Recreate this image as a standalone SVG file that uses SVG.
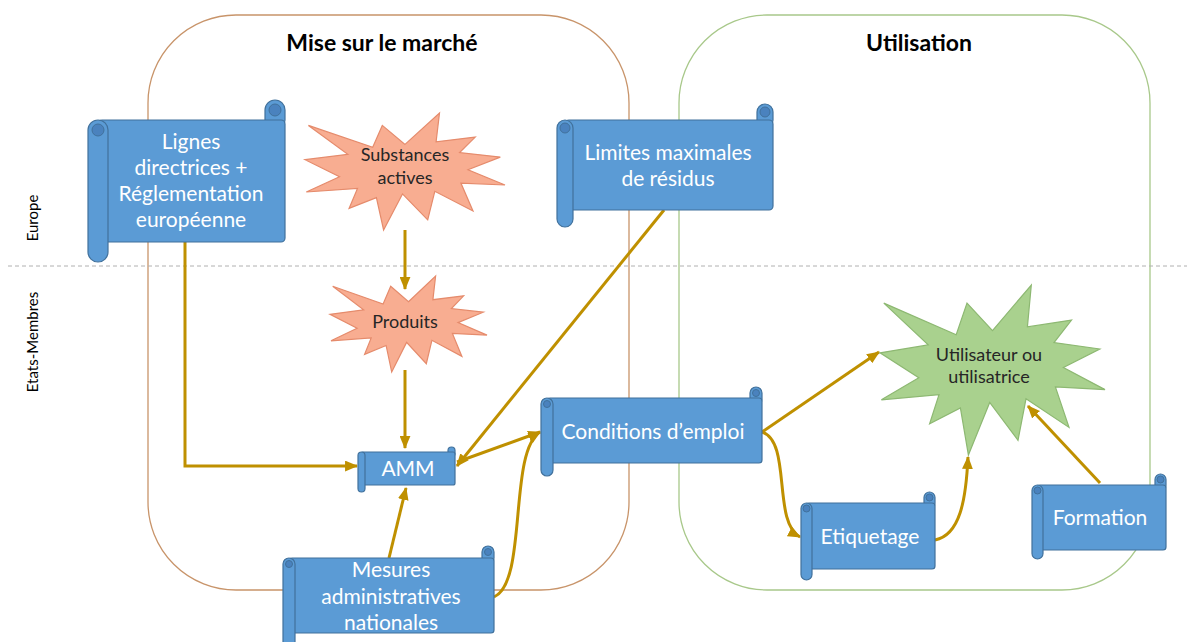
<svg xmlns="http://www.w3.org/2000/svg" width="1187" height="642" viewBox="0 0 1187 642">
<style>
.bg{fill:#fff}
.cont-l{fill:none;stroke:#C8946A;stroke-width:1.3}
.cont-r{fill:none;stroke:#A8C88A;stroke-width:1.3}
.title{font-family:Lato,"Liberation Sans",sans-serif;font-weight:bold;font-size:23px;fill:#000;text-anchor:middle}
.side{font-family:Lato,"Liberation Sans",sans-serif;font-size:15px;fill:#000;text-anchor:middle}
.body{fill:#5B9BD5;stroke:#41719C;stroke-width:1.2}
.curl{fill:#4A82BE;stroke:#41719C;stroke-width:1}
.lbl{font-family:Lato,"Liberation Sans",sans-serif;font-size:21px;fill:#fff;text-anchor:middle}
.star-o{fill:#F8AD91;stroke:#E58B6C;stroke-width:1.2}
.star-g{fill:#A9D18E;stroke:#8DB872;stroke-width:1.2}
.slbl{font-family:Lato,"Liberation Sans",sans-serif;font-size:18px;fill:#262626;text-anchor:middle}
.conn{fill:none;stroke:#BF9000;stroke-width:3;marker-end:url(#arr)}
</style>
<defs>
<marker id="arr" viewBox="0 0 12 10" refX="11" refY="5" markerWidth="13" markerHeight="11" markerUnits="userSpaceOnUse" orient="auto">
<path d="M0,0 L12,5 L0,10 Z" fill="#BF9000"/>
</marker>
</defs>
<rect class="bg" x="0" y="0" width="1187" height="642"/>

<g id="containers">
<rect class="cont-l" x="148" y="15" width="481" height="575" rx="88"/>
<rect class="cont-r" x="679" y="15" width="471" height="575" rx="88"/>
<text class="title" x="382" y="51">Mise sur le marché</text>
<text class="title" x="919" y="51">Utilisation</text>
</g>

<g id="levels">
<line x1="8" y1="266" x2="1187" y2="266" stroke="#B0B0B0" stroke-width="1" stroke-dasharray="4,3"/>
<text class="side" transform="translate(38,218) rotate(-90)">Europe</text>
<text class="side" transform="translate(38,342) rotate(-90)">Etats-Membres</text>
</g>

<g id="connectors">
<path class="conn" d="M185,242 V466 H357"/>
<path class="conn" d="M405,230 V289"/>
<path class="conn" d="M405,370 V448"/>
<path class="conn" d="M664,210 L457,466"/>
<path class="conn" d="M389,558 L406,488"/>
<path class="conn" d="M457,462 L540,432"/>
<path class="conn" d="M494,597 C528,582 508,452 540,432"/>
<path class="conn" d="M762,432 L879,352"/>
<path class="conn" d="M762,432 C792,442 772,522 800,537"/>
<path class="conn" d="M935,540 C960,535 966,500 968,457"/>
<path class="conn" d="M1100,483 L1028,406"/>
</g>

<g id="n-lignes">
<rect class="body" x="265" y="100" width="20" height="30" rx="10"/>
<rect class="body" x="98" y="120" width="187" height="122" rx="4"/>
<circle class="curl" cx="275" cy="110" r="6"/>
<rect class="body" x="88" y="120" width="20" height="142" rx="10"/>
<circle class="curl" cx="98" cy="130" r="6"/>
<text class="lbl" x="191" y="149">Lignes</text>
<text class="lbl" x="191" y="175">directrices +</text>
<text class="lbl" x="191" y="201">Réglementation</text>
<text class="lbl" x="191" y="227">européenne</text>
</g>

<g id="n-substances">
<polygon class="star-o" points="405,144.4 439.5,113 436.1,141.8 475.2,137.1 459.6,152.6 500.3,157.1 468,169.7 505,185 460.9,183.1 473,211 434.8,191.3 427.7,219.9 402.5,193.9 383.6,230 376.4,197.6 349.1,208.4 357.5,188.5 306.3,192 339.5,176.8 305,159.7 347.8,154.3 308.4,125.4 372.7,147.2 382.3,125.4"/>
<text class="slbl" x="405" y="161">Substances</text>
<text class="slbl" x="405" y="184">actives</text>
</g>

<g id="n-produits">
<polygon class="star-o" points="408.5,301.8 435.6,276 432.9,299.7 463.6,295.8 451.4,308.5 483.3,312.2 458,322.6 487,335.1 452.4,333.5 461.9,356.4 431.9,340.3 426.3,363.7 406.6,342.4 391.7,372 386.1,345.5 364.6,354.3 371.2,337.9 331,340.8 357.1,328.3 330,314.3 363.6,309.8 332.7,286.2 383.1,304.1 390.7,286.2"/>
<text class="slbl" x="405" y="328">Produits</text>
</g>

<g id="n-limites">
<rect class="body" x="757" y="104" width="16" height="24" rx="8"/>
<rect class="body" x="565" y="120" width="208" height="90" rx="4"/>
<circle class="curl" cx="765" cy="112" r="5"/>
<rect class="body" x="557" y="120" width="16" height="107" rx="8"/>
<circle class="curl" cx="565" cy="128" r="5"/>
<text class="lbl" x="668" y="160">Limites maximales</text>
<text class="lbl" x="668" y="186">de résidus</text>
</g>

<g id="n-amm">
<rect class="body" x="448" y="447" width="7" height="10" rx="3.5"/>
<rect class="body" x="361" y="452" width="94" height="33" rx="2"/>
<rect class="body" x="358" y="452" width="7" height="40" rx="3.5"/>
<text class="lbl" x="408" y="476">AMM</text>
</g>

<g id="n-mesures">
<rect class="body" x="482" y="546" width="12" height="18" rx="6"/>
<rect class="body" x="289" y="558" width="205" height="75" rx="3"/>
<circle class="curl" cx="488" cy="552" r="3.5"/>
<rect class="body" x="283" y="558" width="12" height="90" rx="6"/>
<circle class="curl" cx="289" cy="564" r="3.5"/>
<text class="lbl" x="391" y="577">Mesures</text>
<text class="lbl" x="391" y="604">administratives</text>
<text class="lbl" x="391" y="630">nationales</text>
</g>

<g id="n-conditions">
<rect class="body" x="750" y="387" width="12" height="18" rx="6"/>
<rect class="body" x="547" y="398" width="215" height="65" rx="3"/>
<circle class="curl" cx="756" cy="393" r="3.5"/>
<rect class="body" x="541" y="398" width="12" height="78" rx="6"/>
<circle class="curl" cx="547" cy="404" r="3.5"/>
<text class="lbl" x="653" y="439">Conditions d’emploi</text>
</g>

<g id="n-etiquetage">
<rect class="body" x="924" y="492" width="11" height="17" rx="5.5"/>
<rect class="body" x="806" y="503" width="129" height="66" rx="3"/>
<circle class="curl" cx="929.5" cy="497.5" r="3.5"/>
<rect class="body" x="801" y="503" width="11" height="77" rx="5.5"/>
<circle class="curl" cx="806.5" cy="508.5" r="3.5"/>
<text class="lbl" x="870" y="544">Etiquetage</text>
</g>

<g id="n-formation">
<rect class="body" x="1155" y="474" width="11" height="17" rx="5.5"/>
<rect class="body" x="1037" y="485" width="129" height="65" rx="3"/>
<circle class="curl" cx="1160.5" cy="479.5" r="3.5"/>
<rect class="body" x="1032" y="485" width="11" height="74" rx="5.5"/>
<circle class="curl" cx="1037.5" cy="490.5" r="3.5"/>
<text class="lbl" x="1100" y="525">Formation</text>
</g>

<g id="n-utilisateur">
<polygon class="star-g" points="992.5,330.6 1031.3,285 1027.4,326.9 1071.5,320.1 1054,342.6 1099.8,349 1063.4,367.5 1105,389.6 1055.4,386.9 1069,427.4 1026,398.8 1018,440.3 989.7,402.5 968.4,455 960.4,408 929.6,423.7 939,394.7 881.4,399.8 918.8,377.7 880,352.8 928.2,344.9 883.8,303.1 956.2,334.7 967,303.1"/>
<text class="slbl" x="989" y="361">Utilisateur ou</text>
<text class="slbl" x="989" y="383">utilisatrice</text>
</g>
</svg>
